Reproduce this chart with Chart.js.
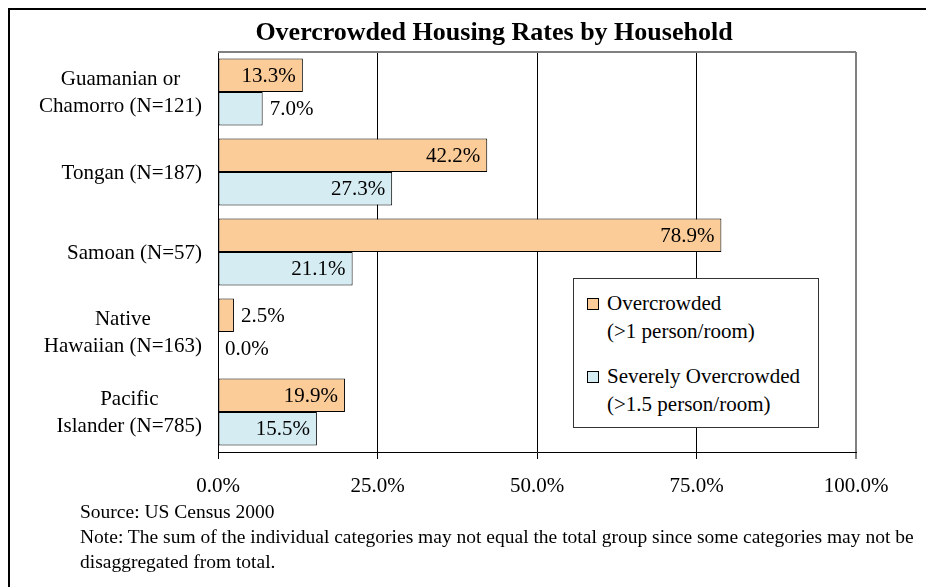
<!DOCTYPE html>
<html>
<head>
<meta charset="utf-8">
<script src="https://cdn.jsdelivr.net/npm/chart.js@4.4.1/dist/chart.umd.min.js"></script>
<style>
  html, body { margin: 0; padding: 0; background: #fff; }
  #wrap { position: relative; width: 926px; height: 587px; overflow: hidden; font-family: "Liberation Serif", "Times New Roman", serif; color: #000; }
  #frame { position: absolute; left: 8px; top: 8px; width: 1000px; height: 700px; border-left: 2px solid #000; border-top: 2px solid #000; }
  #c { position: absolute; left: 0; top: 0; }
  #legend { position: absolute; left: 573px; top: 278px; width: 246px; height: 150px; box-sizing: border-box; border: 1px solid #333; background: #fff; font-size: 21px; line-height: 28px; }
  .item { position: absolute; left: 33px; white-space: nowrap; }
  .sw { position: absolute; left: 13px; width: 12px; height: 12px; box-sizing: border-box; border: 1px solid #000; }
  #footer { position: absolute; left: 80px; top: 499px; font-size: 19.5px; line-height: 25px; white-space: nowrap; }
</style>
</head>
<body>
<div id="wrap">
  <div id="frame"></div>
  <canvas id="c" width="926" height="587"></canvas>
  <div id="legend"></div>
  <div id="footer"></div>
</div>
<script>
const chartTitle = "Overcrowded Housing Rates by Household";
const categories = [
  ["Guamanian or", "Chamorro (N=121)"],
  ["Tongan (N=187)"],
  ["Samoan (N=57)"],
  ["Native", "Hawaiian (N=163)"],
  ["Pacific", "Islander (N=785)"]
];
const seriesNames = [
  ["Overcrowded", "(>1 person/room)"],
  ["Severely Overcrowded", "(>1.5 person/room)"]
];
const overcrowded = [13.3, 42.2, 78.9, 2.5, 19.9];
const severelyOvercrowded = [7.0, 27.3, 21.1, 0.0, 15.5];
const xTicks = [0, 25, 50, 75, 100];
const footerLines = [
  "Source: US Census 2000",
  "Note: The sum of the individual categories may not equal the total group since some categories may not be",
  "disaggregated from total."
];
const seriesColors = ["#FBCB98", "#D5ECF3"];

const FONT = "Liberation Serif";

const valueLabels = {
  id: "valueLabels",
  afterDatasetsDraw(chart) {
    const ctx = chart.ctx;
    ctx.save();
    ctx.font = "21px '" + FONT + "'";
    ctx.fillStyle = "#000";
    ctx.textBaseline = "middle";
    chart.data.datasets.forEach((ds, di) => {
      const meta = chart.getDatasetMeta(di);
      meta.data.forEach((bar, i) => {
        const v = ds.data[i];
        const txt = v.toFixed(1) + "%";
        const w = ctx.measureText(txt).width;
        const len = bar.x - bar.base;
        if (len > w + 14) {
          ctx.textAlign = "right";
          ctx.fillText(txt, bar.x - 7, bar.y + 1);
        } else {
          ctx.textAlign = "left";
          ctx.fillText(txt, bar.x + 7, bar.y + 1);
        }
      });
    });
    ctx.restore();
  }
};

// category labels: each multi-line label is a centred block, right-aligned to the axis
const categoryLabels = {
  id: "categoryLabels",
  afterDraw(chart) {
    const ctx = chart.ctx;
    const ys = chart.scales.y;
    const right = chart.chartArea.left - 16;
    const lh = 26.7;
    ctx.save();
    ctx.font = "21px '" + FONT + "'";
    ctx.fillStyle = "#000";
    ctx.textAlign = "center";
    ctx.textBaseline = "middle";
    chart.data.labels.forEach((lines, i) => {
      const yc = ys.getPixelForValue(i);
      const maxW = Math.max(...lines.map(s => ctx.measureText(s).width));
      const xc = right - maxW / 2;
      const y0 = yc - (lines.length - 1) * lh / 2;
      lines.forEach((s, k) => ctx.fillText(s, xc, y0 + k * lh + 1));
    });
    ctx.restore();
  }
};

const plotBorder = {
  id: "plotBorder",
  beforeDatasetsDraw(chart) {
    const a = chart.chartArea;
    const ctx = chart.ctx;
    ctx.save();
    ctx.strokeStyle = "#808080";
    ctx.lineWidth = 2;
    ctx.beginPath();
    ctx.moveTo(a.left, a.top);
    ctx.lineTo(a.right, a.top);
    ctx.stroke();
    ctx.restore();
  }
};

const chartTitlePlugin = {
  id: "chartTitlePlugin",
  afterDraw(chart) {
    const ctx = chart.ctx;
    ctx.save();
    ctx.font = "bold 26px '" + FONT + "'";
    ctx.fillStyle = "#000";
    ctx.textAlign = "center";
    ctx.textBaseline = "middle";
    ctx.fillText(chartTitle, 494, 33);
    ctx.restore();
  }
};

new Chart(document.getElementById("c"), {
  type: "bar",
  data: {
    labels: categories,
    datasets: [
      { label: seriesNames[0].join(" "), data: overcrowded, backgroundColor: seriesColors[0], borderColor: "#000", borderWidth: 1, borderSkipped: false, categoryPercentage: 0.84, barPercentage: 1.0 },
      { label: seriesNames[1].join(" "), data: severelyOvercrowded, backgroundColor: seriesColors[1], borderColor: "#000", borderWidth: 1, borderSkipped: false, categoryPercentage: 0.84, barPercentage: 1.0 }
    ]
  },
  options: {
    indexAxis: "y",
    responsive: false,
    animation: false,
    devicePixelRatio: 1,
    layout: { padding: { left: 0, right: 70, top: 52, bottom: 0 } },
    plugins: {
      legend: { display: false },
      tooltip: { enabled: false },
      title: { display: false }
    },
    scales: {
      x: {
        min: 0, max: 100,
        afterBuildTicks(scale) { scale.ticks = xTicks.map(v => ({ value: v })); },
        afterFit(scale) { scale.height = 135; },
        ticks: {
          color: "#000",
          font: { family: FONT, size: 21 },
          padding: 15,
          maxRotation: 0,
          callback: v => Number(v).toFixed(1) + "%"
        },
        grid: {
          color: c => (c.tick && c.tick.value === 100) ? "#808080" : "#000",
          lineWidth: c => (c.tick && c.tick.value === 100) ? 2 : 1,
          tickColor: c => (c.tick && c.tick.value === 100) ? "#808080" : "#000",
          tickLength: 7,
          drawTicks: true
        },
        border: { display: true, color: "#000", width: 1 }
      },
      y: {
        afterFit(scale) { scale.width = 218; },
        ticks: { display: false },
        grid: { display: false, drawTicks: false },
        border: { display: true, color: "#000", width: 1 }
      }
    }
  },
  plugins: [plotBorder, valueLabels, categoryLabels, chartTitlePlugin]
});

// HTML legend built from the series names / colours
const legend = document.getElementById("legend");
const tops = [10, 83];
seriesNames.forEach((lines, i) => {
  const sw = document.createElement("div");
  sw.className = "sw";
  sw.style.top = (tops[i] + 9) + "px";
  sw.style.background = seriesColors[i];
  legend.appendChild(sw);
  const t = document.createElement("div");
  t.className = "item";
  t.style.top = tops[i] + "px";
  t.innerHTML = lines.map(s => s.replace(/&/g, "&amp;").replace(/</g, "&lt;").replace(/>/g, "&gt;")).join("<br>");
  legend.appendChild(t);
});

const footer = document.getElementById("footer");
footer.innerHTML = footerLines.map(s => s.replace(/&/g, "&amp;")).join("<br>");
</script>
</body>
</html>
